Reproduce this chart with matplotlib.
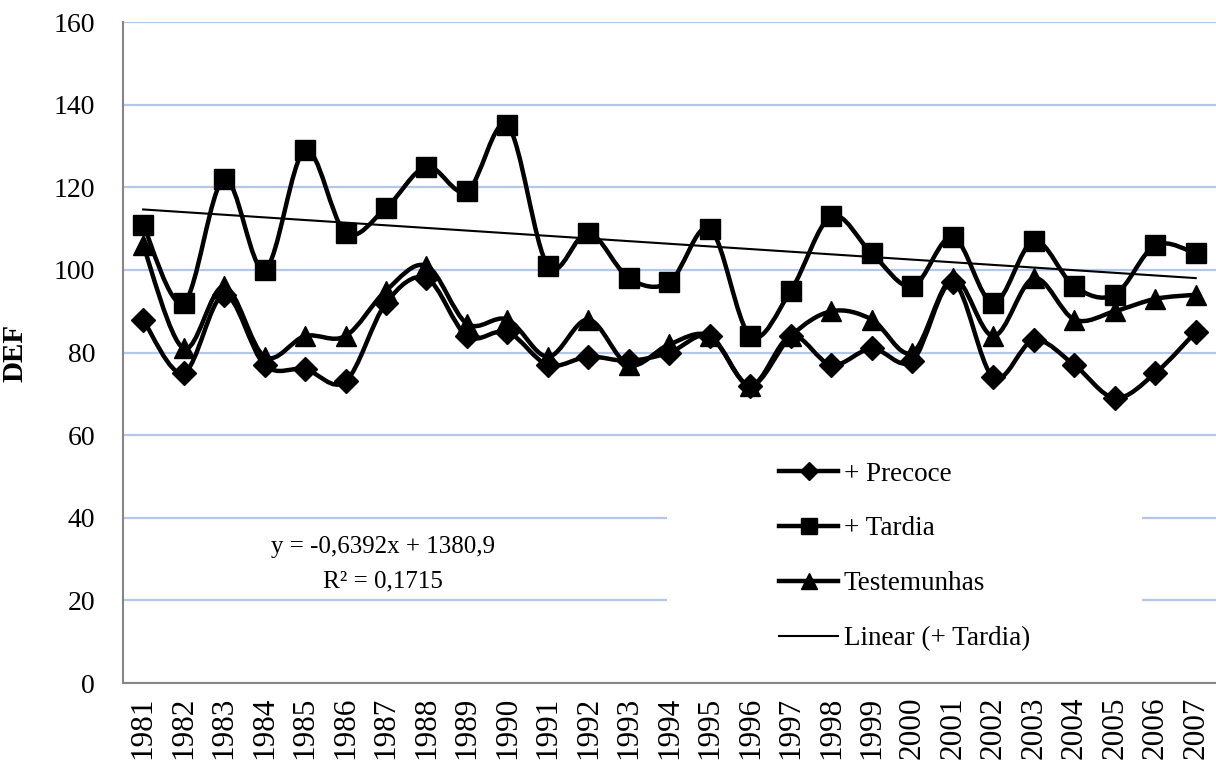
import numpy as np
import matplotlib
matplotlib.use("Agg")
import matplotlib.pyplot as plt
from matplotlib.path import Path
from matplotlib.patches import PathPatch, Rectangle
from matplotlib.lines import Line2D

plt.rcParams['font.family'] = ['Liberation Serif', 'DejaVu Serif']

years = list(range(1981, 2008))
precoce = [88, 75, 94, 77, 76, 73, 92, 98, 84, 85, 77, 79, 78, 80, 84, 72, 84, 77, 81, 78,
           97, 74, 83, 77, 69, 75, 85]
tardia = [111, 92, 122, 100, 129, 109, 115, 125, 119, 135, 101, 109, 98, 97, 110, 84, 95, 113,
          104, 96, 108, 92, 107, 96, 94, 106, 104]
testemunhas = [106, 81, 96, 79, 84, 84, 95, 101, 87, 88, 79, 88, 77, 82, 84, 72, 84, 90, 88, 80,
               98, 84, 98, 88, 90, 93, 94]

# trend line of "+ Tardia" as printed on the chart
slope = -0.6392
intercept = 1380.9
r2 = 0.1715

grid_color = '#b4c7e7'
spine_color = '#868686'


def smooth_path(x, y):
    # Excel-style smoothed line: cubic bezier segments through every point
    x = np.asarray(x, float)
    y = np.asarray(y, float)
    n = len(x)
    verts = [(x[0], y[0])]
    codes = [Path.MOVETO]
    for i in range(n - 1):
        i0 = max(i - 1, 0)
        i3 = min(i + 2, n - 1)
        c1 = (x[i] + (x[i + 1] - x[i0]) / 6, y[i] + (y[i + 1] - y[i0]) / 6)
        c2 = (x[i + 1] - (x[i3] - x[i]) / 6, y[i + 1] - (y[i3] - y[i]) / 6)
        verts += [c1, c2, (x[i + 1], y[i + 1])]
        codes += [Path.CURVE4] * 3
    return Path(verts, codes)


fig = plt.figure(figsize=(12.16, 7.73), dpi=100)
ax = fig.add_axes([0.101, 0.1164, 0.899, 0.855])

series = [
    ('+ Precoce', precoce, 'D', 12),
    ('+ Tardia', tardia, 's', 14.5),
    ('Testemunhas', testemunhas, '^', 15),
]

handles = []
for label, vals, mk, ms in series:
    ax.add_patch(PathPatch(smooth_path(years, vals), facecolor='none', edgecolor='black',
                           lw=3.2, zorder=3, capstyle='round', joinstyle='round'))
    ax.plot(years, vals, linestyle='none', marker=mk, ms=ms, color='black', zorder=4)
    handles.append(Line2D([], [], color='black', lw=3.2, marker=mk, ms=ms * 0.8, label=label))

trend_x = np.array([years[0], years[-1]])
ax.plot(trend_x, slope * trend_x + intercept, color='black', lw=1.5, zorder=5)
handles.append(Line2D([], [], color='black', lw=1.5, label='Linear (+ Tardia)'))

ax.set_xlim(years[0] - 0.5, years[-1] + 0.5)
ax.set_ylim(0, 160)
ax.set_yticks(range(0, 161, 20))
ax.set_xticks(years)
ax.set_xticklabels([str(y) for y in years], rotation=90)
ax.tick_params(axis='both', length=0)
ax.tick_params(axis='y', pad=20, labelsize=20)
ax.tick_params(axis='x', pad=10, labelsize=22.5)

ax.set_axisbelow(True)
ax.yaxis.grid(True, color=grid_color, lw=1.6)
for s in ['top', 'right']:
    ax.spines[s].set_visible(False)
for s in ['left', 'bottom']:
    ax.spines[s].set_color(spine_color)
    ax.spines[s].set_linewidth(1.5)

ax.set_ylabel('DEF', fontsize=21, fontweight='bold', labelpad=18)

# white area behind the legend hides the gridlines there
ax.add_patch(Rectangle((0.4977, 0.035), 0.4346, 0.335, transform=ax.transAxes,
                       facecolor='white', edgecolor='none', zorder=1))

ax.text(0.238, 0.18, f'y = {slope:.4f}x + {intercept:.1f}'.replace('.', ',') +
        f'\nR² = {r2:.4f}'.replace('.', ','),
        transform=ax.transAxes, ha='center', va='center', fontsize=18, linespacing=1.7,
        zorder=6)

ax.legend(handles=handles, loc='upper left', bbox_to_anchor=(0.6, 0.335), frameon=False,
          fontsize=19.5, handlelength=2.2, handletextpad=0.2, labelspacing=1.1,
          borderaxespad=0, borderpad=0)

fig.savefig('out.png', dpi=100)
